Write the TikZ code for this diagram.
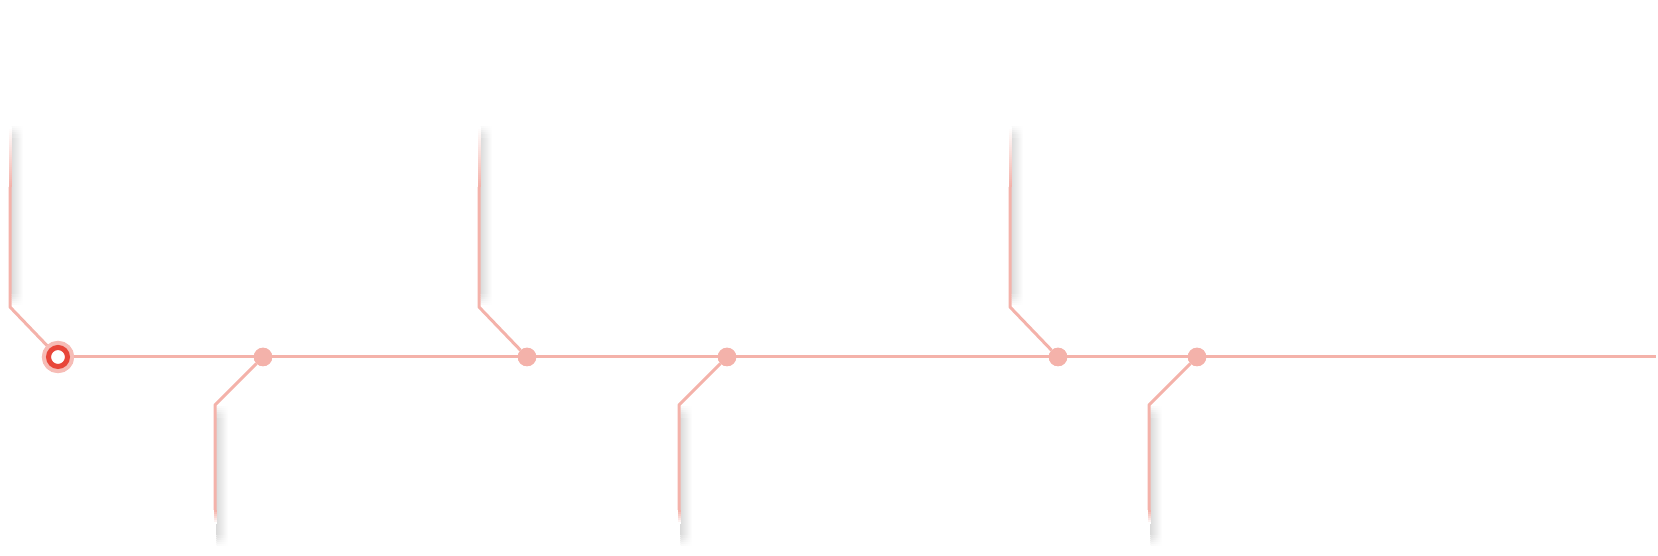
\documentclass[tikz,border=0pt]{standalone}
\definecolor{lpink}{RGB}{244,178,170}
\definecolor{lpinkb}{RGB}{246,188,182}
\definecolor{tred}{RGB}{232,70,58}
\begin{document}
\begin{tikzpicture}[x=1pt,y=1pt,
  link/.style={draw=lpink, line width=3, line join=round},
  dotnode/.style={circle, fill=lpink, minimum size=18.5, inner sep=0},
  startnode/.style={circle, fill=white, draw=tred, line width=5, minimum size=19, inner sep=0, preaction={draw=lpinkb, line width=13}},
]
\useasboundingbox (0,0) rectangle (1658,556);
% main nodes
\node[startnode] (s) at (58,199) {};
\node[dotnode] (d1) at (263,199) {};
\node[dotnode] (d2) at (527,199) {};
\node[dotnode] (d3) at (727,199) {};
\node[dotnode] (d4) at (1058,199) {};
\node[dotnode] (d5) at (1197,199) {};
\coordinate (e) at (1656,199);
% upper branches
\foreach \n in {s,d2,d4}{
  \path (\n) ++(-48,50) coordinate (\n-c);
  \path (\n-c |- 0,369) coordinate (\n-f);
  \path (\n-c |- 0,429) coordinate (\n-t);
  % shadow
  \shade[left color=black!14, right color=white] ([xshift=1.5,yshift=12]\n-c) rectangle ([xshift=13,yshift=-10]\n-t);
  \foreach \i in {0,...,4}{
    \pgfmathsetmacro\q{14*(\i+1)/6}
    \shade[left color=black!\q, right color=white] ([xshift=1.5,yshift=2+2*\i]\n-c) rectangle ([xshift=13,yshift=4.1+2*\i]\n-c);
    \shade[left color=black!\q, right color=white] ([xshift=1.5,yshift=-2.1-2*\i]\n-t) rectangle ([xshift=13,yshift=-2*\i]\n-t);
  }
  \draw[link] (\n) -- (\n-c) -- (\n-f);
  \foreach \i in {0,...,29}{
    \pgfmathsetmacro\p{100-100*\i/29}
    \fill[lpink!\p!white] ([xshift=-1.5,yshift=2*\i-0.1]\n-f) rectangle ([xshift=1.5,yshift=2*\i+2.1]\n-f);
  }
}
% lower branches
\foreach \n in {d1,d3,d5}{
  \path (\n) ++(-48,-48) coordinate (\n-c);
  \path (\n-c |- 0,46) coordinate (\n-f);
  \path (\n-c |- 0,10) coordinate (\n-t);
  % shadow
  \shade[left color=black!14, right color=white] ([xshift=1.5,yshift=-12]\n-c) rectangle ([xshift=13,yshift=10]\n-t);
  \foreach \i in {0,...,4}{
    \pgfmathsetmacro\q{14*(\i+1)/6}
    \shade[left color=black!\q, right color=white] ([xshift=1.5,yshift=-2-2*\i]\n-c) rectangle ([xshift=13,yshift=-4.1-2*\i]\n-c);
    \shade[left color=black!\q, right color=white] ([xshift=1.5,yshift=2.1+2*\i]\n-t) rectangle ([xshift=13,yshift=2*\i]\n-t);
  }
  \draw[link] (\n) -- (\n-c) -- (\n-f);
  \foreach \i in {0,...,6}{
    \pgfmathsetmacro\p{100-100*\i/6}
    \fill[lpink!\p!white] ([xshift=-1.5,yshift=-2*\i+0.1]\n-f) rectangle ([xshift=1.5,yshift=-2*\i-2.1]\n-f);
  }
}
% main line
\draw[link] (s) -- (d1) -- (d2) -- (d3) -- (d4) -- (d5) -- (e);
% redraw nodes on top
\node[startnode] at (s) {};
\foreach \n in {d1,d2,d3,d4,d5}{\node[dotnode] at (\n) {};}
\end{tikzpicture}
\end{document}
